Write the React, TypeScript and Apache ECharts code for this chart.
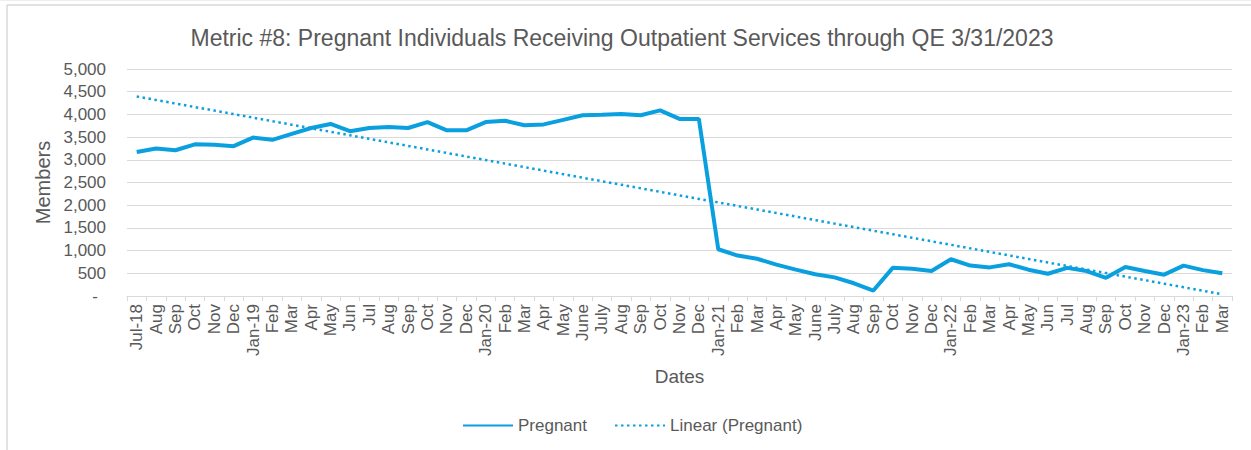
import React, { useEffect, useRef } from "react";
import * as echarts from "echarts";

const categories: string[] = [
  "Jul-18", "Aug", "Sep", "Oct", "Nov", "Dec",
  "Jan-19", "Feb", "Mar", "Apr", "May", "Jun", "Jul", "Aug", "Sep", "Oct", "Nov", "Dec",
  "Jan-20", "Feb", "Mar", "Apr", "May", "June", "July", "Aug", "Sep", "Oct", "Nov", "Dec",
  "Jan-21", "Feb", "Mar", "Apr", "May", "June", "July", "Aug", "Sep", "Oct", "Nov", "Dec",
  "Jan-22", "Feb", "Mar", "Apr", "May", "Jun", "Jul", "Aug", "Sep", "Oct", "Nov", "Dec",
  "Jan-23", "Feb", "Mar",
];

const pregnant: number[] = [
  3170, 3250, 3210, 3340, 3330, 3300,
  3490, 3440, 3570, 3700, 3790, 3630, 3700, 3720, 3700, 3830, 3650, 3650,
  3830, 3860, 3760, 3780, 3880, 3980, 3990, 4010, 3980, 4090, 3900, 3900,
  1030, 890, 820, 690, 580, 480, 410, 280, 120, 620, 600, 550,
  810, 670, 630, 700, 580, 490, 620, 550, 400, 640, 550, 470,
  670, 570, 500,
];

const yTicks = { min: 0, max: 5000, interval: 500 };

function linearFit(values: number[]): number[] {
  const n = values.length;
  let sx = 0, sy = 0, sxx = 0, sxy = 0;
  values.forEach((v, i) => {
    const x = i + 1;
    sx += x; sy += v; sxx += x * x; sxy += x * v;
  });
  const b = (n * sxy - sx * sy) / (n * sxx - sx * sx);
  const a = (sy - b * sx) / n;
  return values.map((_, i) => a + b * (i + 1));
}

const BLUE = "#0AA0E0";
const TEXT = "#595959";
const GRID = "#d9d9d9";
const FONT = "Liberation Sans, Arial, sans-serif";

export default function App() {
  const ref = useRef<HTMLDivElement>(null);

  useEffect(() => {
    if (!ref.current) return;
    const chart = echarts.init(ref.current, null, { renderer: "svg" });
    const trend = linearFit(pregnant);
    chart.setOption({
      animation: false,
      backgroundColor: "#ffffff",
      textStyle: { fontFamily: FONT },
      title: {
        text: "Metric #8: Pregnant Individuals Receiving Outpatient Services through QE 3/31/2023",
        left: 617,
        textAlign: "center",
        top: 21,
        textStyle: { fontFamily: FONT, fontSize: 23, fontWeight: "normal", color: TEXT },
      },
      graphic: [
        { type: "line", shape: { x1: 7, y1: 5, x2: 1251, y2: 5 }, style: { stroke: GRID, lineWidth: 1.5 } },
        { type: "line", shape: { x1: 7, y1: 5, x2: 7, y2: 450 }, style: { stroke: GRID, lineWidth: 1.5 } },
        { type: "line", shape: { x1: 0, y1: 0.5, x2: 1251, y2: 0.5 }, style: { stroke: "#eeeeee", lineWidth: 1 } },
      ],
      legend: {
        bottom: 11,
        left: 457,
        itemWidth: 50,
        itemHeight: 14,
        itemGap: 27,
        itemStyle: { opacity: 0 },
        textStyle: { fontFamily: FONT, fontSize: 17, color: TEXT },
        data: ["Pregnant", "Linear (Pregnant)"],
      },
      grid: { left: 127, right: 19, top: 69, bottom: 154, containLabel: false },
      xAxis: {
        type: "category",
        data: categories,
        boundaryGap: true,
        name: "Dates",
        nameLocation: "middle",
        nameGap: 71,
        nameTextStyle: { fontFamily: FONT, fontSize: 19, color: TEXT },
        axisLine: { lineStyle: { color: GRID, width: 1 } },
        axisTick: { show: true, length: 5, lineStyle: { color: GRID }, interval: 0 },
        axisLabel: {
          rotate: 90,
          interval: 0,
          fontFamily: FONT,
          fontSize: 17,
          color: TEXT,
          margin: 8,
        },
      },
      yAxis: {
        type: "value",
        min: yTicks.min,
        max: yTicks.max,
        interval: yTicks.interval,
        name: "Members",
        nameLocation: "middle",
        nameGap: 74,
        nameRotate: 90,
        nameTextStyle: { fontFamily: FONT, fontSize: 20, color: TEXT },
        axisLine: { show: false },
        axisTick: { show: false },
        splitLine: { lineStyle: { color: GRID, width: 1 } },
        axisLabel: {
          fontFamily: FONT,
          fontSize: 17,
          color: TEXT,
          margin: 21,
          formatter: (v: number) => (v === 0 ? "{z|-}" : v.toLocaleString("en-US")),
          rich: { z: { fontFamily: FONT, fontSize: 17, color: TEXT, padding: [0, 8, 0, 0] } },
        },
      },
      series: [
        {
          name: "Pregnant",
          type: "line",
          data: pregnant,
          showSymbol: false,
          symbol: "none",
          lineStyle: { color: BLUE, width: 4 },
          itemStyle: { color: BLUE },
          z: 3,
        },
        {
          name: "Linear (Pregnant)",
          type: "line",
          data: trend,
          showSymbol: false,
          symbol: "none",
          lineStyle: { color: BLUE, width: 2.5, type: [2.5, 3.5] },
          itemStyle: { color: BLUE },
          z: 2,
        },
      ],
    });
    return () => chart.dispose();
  }, []);

  return (
    <div
      ref={ref}
      style={{ position: "fixed", left: 0, top: 0, width: 1251, height: 450, background: "#fff" }}
    />
  );
}
